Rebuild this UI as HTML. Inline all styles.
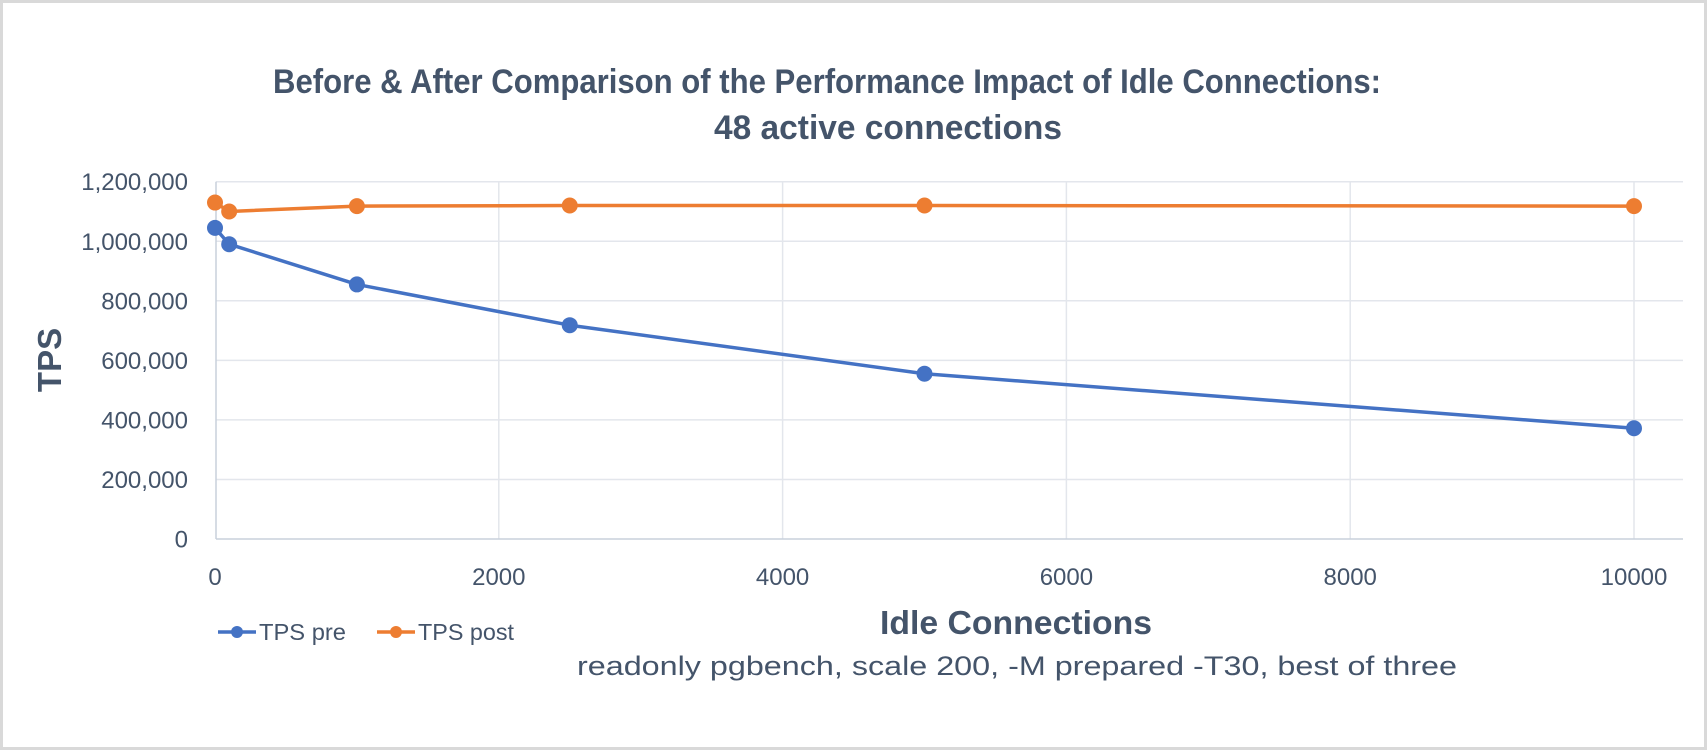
<!DOCTYPE html>
<html><head><meta charset="utf-8"><style>
html,body{margin:0;padding:0;background:#fff}
svg{display:block;font-family:"Liberation Sans",sans-serif}
</style></head><body>
<svg id="chart" width="1708" height="752" viewBox="0 0 1708 752">
<rect x="1.5" y="1.5" width="1704" height="747" fill="#fff" stroke="#d9d9d9" stroke-width="3"/>
<text x="827" y="93" text-anchor="middle" font-size="34" font-weight="bold" fill="#44546a" textLength="1108" lengthAdjust="spacingAndGlyphs">Before &amp; After Comparison of the Performance Impact of Idle Connections:</text>
<text x="888" y="139" text-anchor="middle" font-size="34" font-weight="bold" fill="#44546a" textLength="348" lengthAdjust="spacingAndGlyphs">48 active connections</text>
<g id="grid"></g>
<g id="axes"></g>
<g id="series"></g>
<text transform="translate(61,360) rotate(-90)" text-anchor="middle" font-size="33" font-weight="bold" fill="#44546a">TPS</text>
<text x="1016" y="634" text-anchor="middle" font-size="33" font-weight="bold" fill="#44546a" textLength="272" lengthAdjust="spacingAndGlyphs">Idle Connections</text>
<text x="1017" y="675" text-anchor="middle" font-size="27" fill="#44546a" textLength="880" lengthAdjust="spacingAndGlyphs">readonly pgbench, scale 200, -M prepared -T30, best of three</text>
<g>
<g>
<line x1="218" y1="632" x2="256" y2="632" stroke="#4472c4" stroke-width="3.5"/>
<circle cx="237" cy="632" r="6" fill="#4472c4"/>
<text x="259" y="640" font-size="23" fill="#44546a" textLength="87" lengthAdjust="spacingAndGlyphs">TPS pre</text>
</g>
<g>
<line x1="377" y1="632" x2="415" y2="632" stroke="#ed7d31" stroke-width="3.5"/>
<circle cx="396" cy="632" r="6" fill="#ed7d31"/>
<text x="418" y="640" font-size="23" fill="#44546a" textLength="96" lengthAdjust="spacingAndGlyphs">TPS post</text>
</g>
</g>
</svg>
<script>
const xValues = [0, 100, 1000, 2500, 5000, 10000];
const tpsPre = [1045000, 990000, 855000, 718000, 555000, 372000];
const tpsPost = [1130000, 1100000, 1118000, 1120000, 1120000, 1118000];
const yTicks = [0, 200000, 400000, 600000, 800000, 1000000, 1200000];
const xTicks = [0, 2000, 4000, 6000, 8000, 10000];

const NS = 'http://www.w3.org/2000/svg';
const X0 = 215, X1 = 1634, PL = 216, PR = 1683, YB = 539, YT = 181.7;
const xs = v => X0 + (v / 10000) * (X1 - X0);
const ys = v => YB - (v / 1200000) * (YB - YT);
function mk(tag, attrs, parent) {
  const e = document.createElementNS(NS, tag);
  for (const k in attrs) e.setAttribute(k, attrs[k]);
  parent.appendChild(e);
  return e;
}
const grid = document.getElementById('grid');
const axes = document.getElementById('axes');
const series = document.getElementById('series');

yTicks.forEach(t => {
  if (t > 0) {
    const l = mk('line', {x1: PL, x2: PR, y1: ys(t), y2: ys(t), stroke: '#e3e6ec', 'stroke-width': 1.5}, grid);
    
    
  }
  const tx = mk('text', {x: 188, y: ys(t) + 8.5, 'text-anchor': 'end', 'font-size': 24, fill: '#44546a'}, axes);
  
  
  tx.textContent = t.toLocaleString('en-US');
});
xTicks.forEach(t => {
  if (t > 0) {
    const l = mk('line', {x1: xs(t), x2: xs(t), y1: YT, y2: YB, stroke: '#e3e6ec', 'stroke-width': 1.5}, grid);
    
    
  }
  const tx = mk('text', {x: xs(t), y: 585, 'text-anchor': 'middle', 'font-size': 24, fill: '#44546a'}, axes);
  
  
  tx.textContent = String(t);
});
const ya = mk('line', {x1: PL, x2: PL, y1: YT, y2: YB, stroke: '#c8d0dc', 'stroke-width': 1.5}, axes);


const xa = mk('line', {x1: PL, x2: PR, y1: YB, y2: YB, stroke: '#c8d0dc', 'stroke-width': 1.5}, axes);



function drawSeries(vals, color, name) {
  const g = mk('g', {}, series);
  
  
  const pts = vals.map((v, i) => xs(xValues[i]) + ',' + ys(v)).join(' ');
  const pl = mk('polyline', {points: pts, fill: 'none', stroke: color, 'stroke-width': 3.5, 'stroke-linejoin': 'round'}, g);
  
  
  vals.forEach((v, i) => {
    const c = mk('circle', {cx: xs(xValues[i]), cy: ys(v), r: 8, fill: color}, g);
    
    
  });
}
drawSeries(tpsPost, '#ed7d31', 'tps-post');
drawSeries(tpsPre, '#4472c4', 'tps-pre');
</script>
</body></html>
